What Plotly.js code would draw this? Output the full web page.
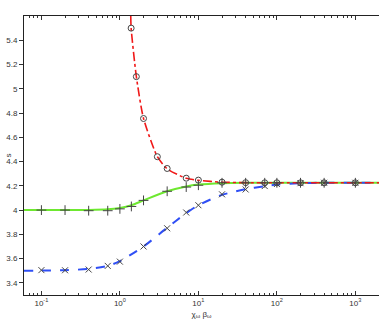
<!DOCTYPE html>
<html>
<head>
<meta charset="utf-8">
<script src="https://cdn.plot.ly/plotly-3.0.1.min.js"></script>
<style>
  body { margin: 0; padding: 0; background: #fff; }
  #myDiv { width: 382px; height: 323px; }
</style>
</head>
<body>
<div id="myDiv"></div>
<script>
// red (o) series
var redX = [1.39, 1.62, 2, 3, 4, 7, 10, 20, 40, 70, 100, 200, 400, 1000];
var redY = [5.5, 5.1, 4.755, 4.44, 4.343, 4.263, 4.247, 4.23, 4.226, 4.225, 4.225, 4.225, 4.225, 4.225];
var redLineX = [1.375, 1.39, 1.62, 2, 3, 4, 7, 10, 20, 40, 100, 400, 2000];
var redLineY = [5.6, 5.5, 5.1, 4.755, 4.44, 4.34, 4.262, 4.245, 4.23, 4.226, 4.225, 4.225, 4.225];

// green (+) series
var greenX = [0.1, 0.2, 0.4, 0.7, 1, 1.4, 2, 4, 7, 10, 20, 40, 70, 100, 200, 400, 1000];
var greenY = [4.0, 4.0, 3.995, 3.995, 4.01, 4.03, 4.08, 4.155, 4.19, 4.205, 4.225, 4.225, 4.225, 4.225, 4.225, 4.225, 4.225];
var greenLineX = [0.06, 0.1, 0.2, 0.4, 0.7, 1, 1.4, 2, 4, 7, 10, 20, 40, 100, 400, 2000];
var greenLineY = [4.0, 4.0, 4.0, 4.001, 4.006, 4.018, 4.04, 4.08, 4.155, 4.195, 4.21, 4.222, 4.225, 4.225, 4.225, 4.225];

// blue (x) series
var blueX = [0.1, 0.2, 0.4, 0.7, 1, 2, 4, 7, 10, 20, 40, 70, 100, 200, 400, 1000];
var blueY = [3.505, 3.504, 3.51, 3.54, 3.575, 3.70, 3.85, 3.98, 4.04, 4.13, 4.17, 4.198, 4.215, 4.222, 4.225, 4.225];
var blueLineX = [0.06, 0.1, 0.2, 0.4, 0.7, 1, 2, 4, 7, 10, 20, 40, 70, 100, 200, 400, 1000, 2000];
var blueLineY = [3.5, 3.501, 3.505, 3.515, 3.54, 3.58, 3.7, 3.855, 3.975, 4.04, 4.125, 4.172, 4.197, 4.21, 4.222, 4.225, 4.225, 4.225];

// axis ticks
var xTickVals = [0.1, 1, 10, 100, 1000];
var xTickText = ['10<sup>-1</sup>', '10<sup>0</sup>', '10<sup>1</sup>', '10<sup>2</sup>', '10<sup>3</sup>'];
var yTickVals = [3.4, 3.6, 3.8, 4, 4.2, 4.4, 4.6, 4.8, 5, 5.2, 5.4];
var yTickText = ['3.4', '3.6', '3.8', '4', '4.2', '4.4', '4.6', '4.8', '5', '5.2', '5.4'];

var minorVals = [];
[0.01, 0.1, 1, 10, 100, 1000].forEach(function (d) {
  for (var k = 2; k <= 9; k++) minorVals.push(k * d);
});

var markCol = '#444';

var data = [
  { x: greenLineX, y: greenLineY, mode: 'lines', line: { color: '#6ee830', width: 2, shape: 'spline', smoothing: 0.8 }, hoverinfo: 'skip' },
  { x: blueLineX, y: blueLineY, mode: 'lines', line: { color: '#2f4ff5', width: 2, dash: 'dash', shape: 'spline', smoothing: 0.8 }, hoverinfo: 'skip' },
  { x: redLineX, y: redLineY, mode: 'lines', line: { color: '#f01818', width: 1.6, dash: 'dashdot', shape: 'spline', smoothing: 0.6 }, hoverinfo: 'skip' },
  { x: greenX, y: greenY, mode: 'markers', marker: { symbol: 'cross-thin-open', size: 7, color: markCol, line: { color: markCol, width: 1 } } },
  { x: blueX, y: blueY, mode: 'markers', marker: { symbol: 'x-thin-open', size: 6, color: markCol, line: { color: markCol, width: 1 } } },
  { x: redX, y: redY, mode: 'markers', marker: { symbol: 'circle-open', size: 6, color: markCol, line: { color: markCol, width: 1 } } }
];

var tickFont = { family: 'Liberation Sans, Arial, sans-serif', size: 8, color: '#333' };

var layout = {
  width: 382,
  height: 323,
  margin: { l: 24, r: 3, t: 16, b: 28 },
  showlegend: false,
  paper_bgcolor: '#fff',
  plot_bgcolor: '#fff',
  xaxis: {
    type: 'log',
    range: [Math.log10(0.06), Math.log10(2000)],
    tickmode: 'array', tickvals: xTickVals, ticktext: xTickText,
    ticks: 'inside', ticklen: 4, tickcolor: '#333',
    minor: { tickmode: 'array', tickvals: minorVals, ticks: 'inside', ticklen: 2, tickcolor: '#333', showgrid: false },
    showline: true, linecolor: '#222', linewidth: 1, mirror: 'ticks',
    showgrid: false, zeroline: false,
    tickfont: tickFont,
    title: { text: 'χ<sub>ω</sub> β<sub>ω</sub>', font: tickFont, standoff: 4 },
    automargin: false
  },
  yaxis: {
    range: [3.3, 5.6],
    tickmode: 'array', tickvals: yTickVals, ticktext: yTickText,
    ticks: 'outside', ticklen: 4, tickcolor: '#333',
    showline: true, linecolor: '#222', linewidth: 1,
    showgrid: false, zeroline: false,
    tickfont: tickFont,
    automargin: false
  },
  yaxis2: {
    overlaying: 'y', side: 'right', matches: 'y',
    range: [3.3, 5.6],
    tickmode: 'array', tickvals: yTickVals,
    ticks: 'inside', ticklen: 4, tickcolor: '#333',
    showticklabels: false,
    showline: true, linecolor: '#555', linewidth: 1,
    showgrid: false, zeroline: false
  },
  annotations: [{
    text: 's', font: tickFont, textangle: -90,
    xref: 'paper', yref: 'paper', x: -0.045, y: 0.5,
    xanchor: 'center', yanchor: 'middle', showarrow: false
  }]
};

Plotly.newPlot('myDiv', data, layout, { displayModeBar: false, staticPlot: true });
</script>
</body>
</html>
